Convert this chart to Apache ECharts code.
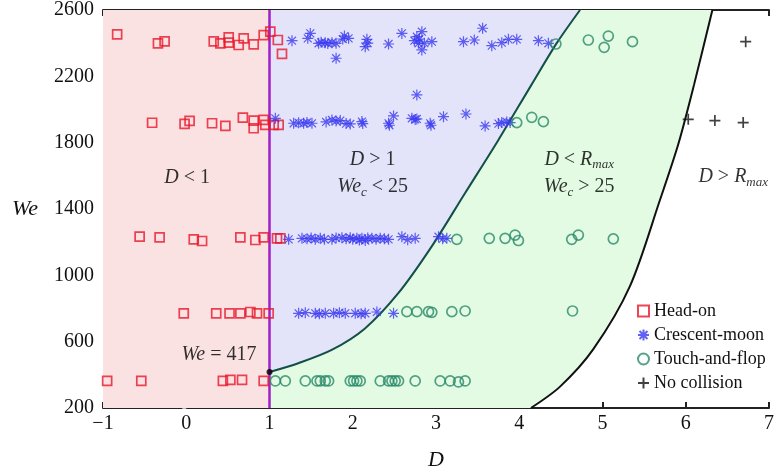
<!DOCTYPE html>
<html><head><meta charset="utf-8">
<script src="https://cdn.jsdelivr.net/npm/echarts@6/dist/echarts.min.js"></script>
<style>html,body{margin:0;padding:0;background:#fff}#c{width:778px;height:474px}</style>
</head><body><div id="c"></div>
<script>
// ---- axes ----
const xMin = -1, xMax = 7, xStep = 1;
const yMin = 200, yMax = 2600, yStep = 400;
const xTickLabels = ['\u22121','0','1','2','3','4','5','6','7'];
const yTickLabels = ['200','600','1000','1400','1800','2200','2600'];

// ---- regime boundaries ----
const boundaryD1 = [[1,200],[1,2600]];
const curveWeC = [[1,417],[1.346,470],[1.747,550],[2.147,680],[2.547,892],[2.947,1173],[3.348,1495],[3.748,1815],[4.148,2150],[4.45,2400],[4.73,2600]];
const curveRmax = [[4.14,200],[4.49,329],[4.89,555],[5.33,935],[5.69,1454],[5.91,1790],[6.1,2150],[6.32,2600]];
const criticalPoint = [[1,417]];

// ---- data ----
const headOn = [
[-0.83,2453],[-0.34,2399],[-0.26,2411],[0.33,2411],[0.41,2399],[0.51,2435],[0.51,2403],[0.63,2389],[0.69,2429],[0.81,2393],[0.93,2449],[1.01,2469],[1.10,2419],[1.15,2335],
[-0.41,1920],[-0.02,1913],[0.04,1931],[0.31,1917],[0.47,1901],[0.68,1951],[0.81,1933],[0.81,1887],[0.93,1937],[0.95,1907],[1.05,1907],[1.11,1907],
[-0.56,1233],[-0.32,1229],[0.09,1217],[0.19,1207],[0.65,1229],[0.83,1213],[0.93,1229],[1.09,1223],[1.13,1223],
[-0.03,771],[0.36,771],[0.52,771],[0.65,771],[0.77,779],[0.85,771],[0.99,771],
[-0.95,363],[-0.54,363],[0.44,363],[0.53,369],[0.67,369],[0.93,363]
];
const crescentMoon = [
[1.27,2415],[1.46,2429],[1.49,2459],[1.59,2399],[1.62,2405],[1.67,2403],[1.70,2398],[1.75,2403],[1.80,2399],[1.80,2309],[1.88,2425],[1.90,2443],[1.95,2429],[2.17,2423],[2.18,2400],[2.15,2379],[2.43,2395],[2.59,2459],[2.74,2415],[2.77,2439],[2.80,2425],[2.83,2469],[2.79,2399],[2.86,2400],[2.83,2359],[2.95,2409],[3.33,2409],[3.46,2419],[3.56,2490],[3.67,2385],[3.79,2403],[3.87,2423],[3.97,2423],[4.23,2415],[4.35,2399],
[1.07,1947],[1.29,1917],[1.35,1920],[1.41,1917],[1.45,1922],[1.51,1917],[1.68,1925],[1.75,1937],[1.80,1930],[1.85,1933],[1.92,1915],[1.97,1913],[2.11,1927],[2.12,1915],[2.43,1917],[2.44,1905],[2.49,1961],[2.71,1947],[2.75,1940],[2.77,1943],[2.93,1917],[2.94,1905],[3.09,1957],[3.36,1973],[3.59,1901],[3.75,1915],[3.79,1921],[3.85,1925],[3.89,1921],[2.77,2088],
[1.23,1217],[1.39,1223],[1.45,1220],[1.50,1225],[1.55,1218],[1.61,1223],[1.66,1217],[1.75,1217],[1.80,1225],[1.87,1227],[1.92,1220],[1.97,1227],[2.00,1217],[2.05,1223],[2.08,1213],[2.11,1223],[2.15,1210],[2.18,1225],[2.23,1223],[2.28,1218],[2.33,1223],[2.38,1220],[2.43,1217],[2.59,1233],[2.66,1215],[2.75,1223],[3.03,1233],[3.08,1220],[3.13,1223],
[1.35,771],[1.43,775],[1.55,771],[1.60,768],[1.67,771],[1.77,771],[1.84,775],[1.91,771],[2.03,771],[2.10,768],[2.15,771],[2.29,779],[2.49,771]
];
const touchAndFlop = [
[1.07,363],[1.19,363],[1.43,363],[1.57,363],[1.61,363],[1.67,363],[1.71,363],[1.97,363],[2.01,363],[2.05,363],[2.09,363],[2.33,363],[2.43,363],[2.47,363],[2.51,363],[2.55,363],[2.75,363],[3.05,363],[3.17,363],[3.27,357],[3.35,363],
[2.65,781],[2.77,781],[2.91,781],[2.95,777],[3.19,781],[3.35,785],[4.64,785],
[3.25,1217],[3.64,1223],[3.83,1223],[3.95,1243],[3.99,1210],[4.63,1217],[4.71,1243],[5.13,1220],
[3.97,1921],[4.15,1953],[4.29,1927],
[4.44,2395],[4.83,2419],[5.07,2443],[5.02,2375],[5.36,2409]
];
const noCollision = [[6.03,1941],[6.35,1933],[6.69,1921],[6.72,2409]];

// ---- annotations ----
const annotationPos = [[0.01,1587],[2.24,1700],[2.24,1533],[4.72,1700],[4.72,1533],[6.57,1593]];
const annotationText = ['{i|D} < 1','{i|D} > 1','{i|We}{s|c} < 25','{i|D} < {i|R}{s|max}','{i|We}{s|c} > 25','{i|D} > {i|R}{s|max}'];
const criticalText = '{i|We} = 417';

const serif = "'Liberation Serif','Times New Roman',serif";
const rich = {
  i:{fontStyle:'italic',fontFamily:serif,fontSize:20,color:'#000'},
  s:{fontStyle:'italic',fontFamily:serif,fontSize:13,color:'#000',verticalAlign:'bottom',lineHeight:24}
};

const chart = echarts.init(document.getElementById('c'));
const regionColors = ['#fbe2e2','#e3e3fa','#e3fbe3'];

function regionRender(params, api){
  const k = params.dataIndex;
  let pts;
  if (k === 0) pts = [[xMin,yMin],[1,yMin],[1,yMax],[xMin,yMax]];
  else if (k === 1) pts = curveWeC.concat([[1,yMax]]);
  else pts = [[1,yMin]].concat(curveWeC, curveRmax.slice().reverse());
  return {type:'polygon', shape:{points: pts.map(p=>api.coord(p))}, style:{fill:regionColors[k]}, silent:true};
}

const axisCommon = {
  axisLine:{show:true,lineStyle:{color:'#222',width:2}},
  axisTick:{show:true,inside:true,length:6,lineStyle:{color:'#222',width:2}},
  splitLine:{show:false}
};

chart.setOption({
  animation:false,
  backgroundColor:'#fff',
  grid:{left:103,right:9,top:10,bottom:66,containLabel:false,outerBoundsMode:'none'},
  xAxis:[
    Object.assign({type:'value',min:xMin,max:xMax,interval:xStep,position:'bottom',
      name:'D',nameLocation:'middle',nameGap:41,
      nameTextStyle:{fontFamily:serif,fontStyle:'italic',fontSize:22,color:'#111'},
      axisLabel:{fontFamily:serif,fontSize:20,color:'#111',margin:6,
        formatter:v=>xTickLabels[Math.round((v-xMin)/xStep)]}},axisCommon),
    Object.assign({type:'value',min:xMin,max:xMax,interval:xStep,position:'top',axisLabel:{show:false}},axisCommon)
  ],
  yAxis:[
    Object.assign({type:'value',min:yMin,max:yMax,interval:yStep,position:'left',
      name:'We',nameLocation:'middle',nameGap:65,nameRotate:0,
      nameTextStyle:{fontFamily:serif,fontStyle:'italic',fontSize:22,color:'#111'},
      axisLabel:{fontFamily:serif,fontSize:20,color:'#111',margin:9,
        formatter:v=>yTickLabels[Math.round((v-yMin)/yStep)]}},axisCommon),
    {type:'value',min:yMin,max:yMax,interval:yStep,position:'right',axisLabel:{show:false},
      axisLine:{show:true,lineStyle:{color:'#d8d8d8',width:1}},
      axisTick:{show:true,inside:true,length:4,lineStyle:{color:'#bbb'}},splitLine:{show:false}}
  ],
  legend:{
    orient:'vertical',left:637,top:302,padding:0,itemGap:6,itemWidth:11,itemHeight:11,
    textStyle:{fontFamily:serif,fontSize:18,color:'#111'},
    data:['Head-on','Crescent-moon','Touch-and-flop','No collision']
  },
  series:[
    {type:'custom',name:'regions',renderItem:regionRender,data:[[0,yMin],[0,yMin],[0,yMin]],z:1,silent:true,clip:true},
    {type:'line',name:'WeC',data:curveWeC,smooth:0.3,showSymbol:false,lineStyle:{color:'#124f48',width:2},z:3,silent:true},
    {type:'line',name:'Rmax',data:curveRmax,smooth:0.3,showSymbol:false,lineStyle:{color:'#111',width:2},z:3,silent:true},
    {type:'line',name:'D1',data:boundaryD1,showSymbol:false,lineStyle:{color:'#a01fc6',width:2.5},z:3,silent:true},
    {type:'scatter',name:'Head-on',data:headOn,symbol:'rect',symbolSize:9,z:5,
      itemStyle:{color:'rgba(0,0,0,0)',borderColor:'#e8172c',borderWidth:1.7}},
    {type:'scatter',name:'Crescent-moon',data:crescentMoon,z:5,symbolSize:11,
      symbol:'path://M0,-5L0,5M-5,0L5,0M-3.6,-3.6L3.6,3.6M-3.6,3.6L3.6,-3.6',
      itemStyle:{color:'rgba(0,0,0,0)',borderColor:'#3a3af0',borderWidth:1.2}},
    {type:'scatter',name:'Touch-and-flop',data:touchAndFlop,symbol:'circle',symbolSize:10,z:5,
      itemStyle:{color:'rgba(0,0,0,0)',borderColor:'#2a8a6c',borderWidth:1.7}},
    {type:'scatter',name:'No collision',data:noCollision,z:5,symbolSize:11,
      symbol:'path://M0,-5L0,5M-5,0L5,0',
      itemStyle:{color:'rgba(0,0,0,0)',borderColor:'#111',borderWidth:1.7}},
    {type:'scatter',name:'critical',data:criticalPoint,symbol:'circle',symbolSize:6,z:6,silent:true,
      itemStyle:{color:'#000'},
      label:{show:true,position:'left',distance:10,offset:[0,-17],formatter:criticalText,
        fontFamily:serif,fontSize:20,color:'#000',rich:rich}},
    {type:'scatter',name:'annotations',data:annotationPos.map((p,i)=>({value:p,txt:annotationText[i]})),
      symbolSize:0,z:6,silent:true,
      label:{show:true,position:'inside',fontFamily:serif,fontSize:20,color:'#000',rich:rich,
        formatter:p=>annotationText[p.dataIndex]}}
  ]
});
</script></body></html>
